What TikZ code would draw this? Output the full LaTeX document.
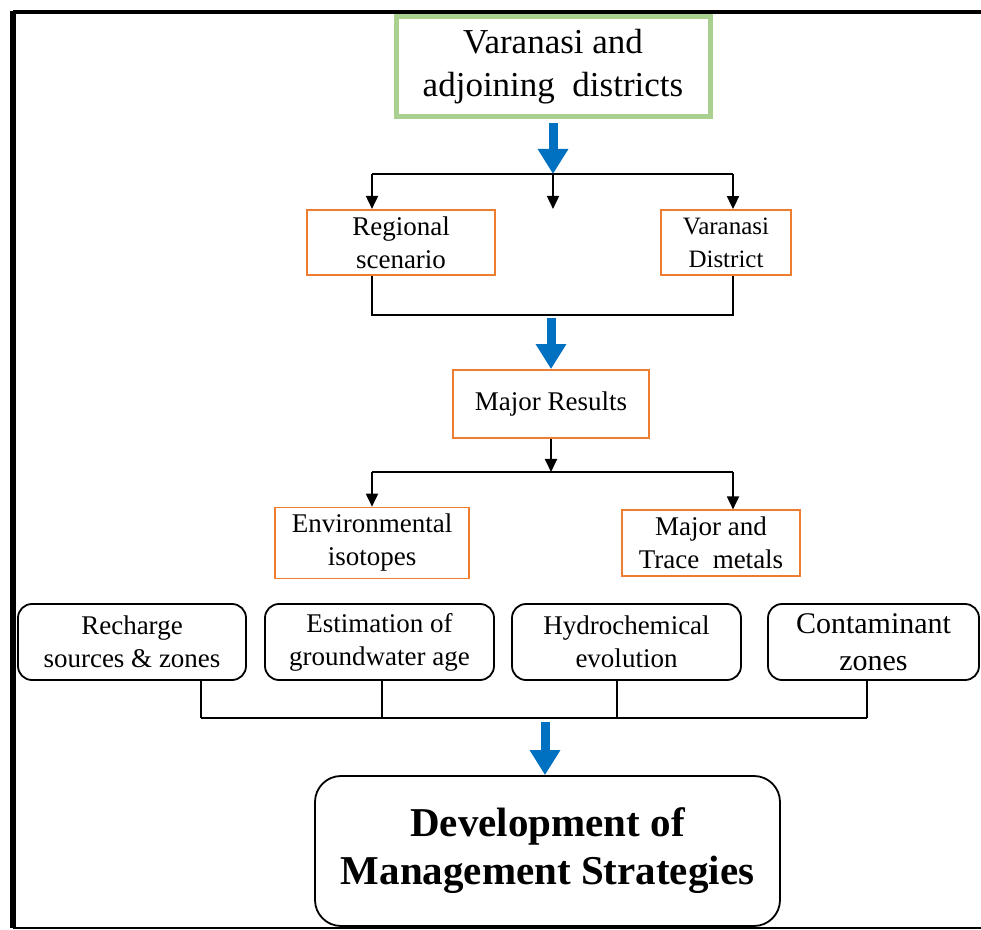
\documentclass[tikz,border=0pt]{standalone}
\usepackage{fontspec}
\setmainfont{Liberation Serif}
\usepackage{tikz}
\usetikzlibrary{positioning, arrows.meta}
\definecolor{areagreen}{RGB}{169,208,142}
\definecolor{resultorange}{RGB}{237,125,49}
\definecolor{flowblue}{RGB}{0,112,192}
\tikzstyle{area} = [rectangle, draw=areagreen, line width=2.5pt, minimum width=157pt, minimum height=50pt, text centered, align=center, font=\fontsize{17.5}{21.5}\selectfont]
\tikzstyle{result} = [rectangle, draw=resultorange, line width=0.9pt, minimum height=32.5pt, text centered, align=center, font=\fontsize{13.5}{16.5}\selectfont]
\tikzstyle{finding} = [rectangle, rounded corners=7pt, draw=black, line width=0.9pt, minimum height=38pt, text centered, align=center, font=\fontsize{13.5}{16.5}\selectfont]
\tikzstyle{strategy} = [rectangle, rounded corners=13pt, draw=black, line width=0.9pt, minimum width=232.5pt, minimum height=75pt, text centered, align=center, font=\bfseries\fontsize{20.5}{24}\selectfont]
\tikzstyle{line} = [line width=0.9pt]
\tikzstyle{arrow} = [line width=0.9pt, -{Triangle[width=6pt,length=6.5pt]}]
\tikzstyle{bigarrow} = [line width=4.5pt, draw=flowblue, -{Triangle[width=14.5pt,length=12.5pt]}]

\begin{document}
\begin{tikzpicture}[x=0.5pt, y=-0.5pt]
			\useasboundingbox (0,0) rectangle (981,930);
			% Frame
			\draw [line width=2pt] (981,12) -- (13,12);
			\draw [line width=3pt] (13,11) -- (13,928);
			\draw [line width=1pt] (13,928) -- (981,928);
			
			% Nodes
			\node (area) [area] at (553,67) {Varanasi and\\adjoining \ districts};
			
			\node (regional) [result, minimum width=94pt] at (401,242.5) {Regional\\scenario};
			\node (district) [result, minimum width=65pt, font=\fontsize{12.5}{16.5}\selectfont] at (726,242.5) {Varanasi\\District};
			
			\node (results) [result, minimum width=98pt, minimum height=34pt] at (551,404) {Major Results};
			
			\node (isotopes) [result, minimum width=97pt] at (372,543) {Environmental\\isotopes};
			\node (metals) [result, minimum width=89pt] at (711,543) {Major and\\Trace \ metals};
			
			\node (recharge) [finding, minimum width=114pt] at (132,642) {Recharge\\sources \& zones};
			\node (age) [finding, minimum width=114.5pt] at (379.5,642) {Estimation of\\groundwater age};
			\node (evolution) [finding, minimum width=114.5pt] at (626.5,642) {Hydrochemical\\evolution};
			\node (contaminant) [finding, minimum width=105.5pt, font=\fontsize{15}{18.5}\selectfont] at (873.5,642) {Contaminant\\zones};
			
			\node (strategy) [strategy] at (547.5,851) {Development of\\Management Strategies};
			
			% Junctions
			\coordinate (split1) at (553,174);
			\coordinate (left1) at (372,174);
			\coordinate (right1) at (733,174);
			\coordinate (merge1) at (551,315);
			\coordinate (split2) at (551,472);
			\coordinate (left2) at (372,472);
			\coordinate (right2) at (733,472);
			\coordinate (m1) at (201,718);
			\coordinate (m2) at (382,718);
			\coordinate (m3) at (617,718);
			\coordinate (m4) at (867,718);
			\coordinate (merge2) at (545,718);
			
			% Arrows
			\draw [bigarrow] ([yshift=-2pt]area.south) -- (split1);
			\draw [line] (left1) -- (right1);
			\draw [arrow] (left1) -- (left1 |- regional.north);
			\draw [arrow] (split1) -- (split1 |- regional.north);
			\draw [arrow] (right1) -- (right1 |- district.north);
			
			\draw [line] (regional.south -| left1) |- (merge1) -| (district.south -| right1);
			\draw [bigarrow] ([yshift=-1.5pt]merge1) -- (results.north);
			
			\draw [arrow] (results.south) -- (split2);
			\draw [line] (left2) -- (right2);
			\draw [arrow] (left2) -- (left2 |- isotopes.north);
			\draw [arrow] (right2) -- (right2 |- metals.north);
			
			\draw [line] (recharge.south -| m1) -- (m1);
			\draw [line] (age.south -| m2) -- (m2);
			\draw [line] (evolution.south -| m3) -- (m3);
			\draw [line] (contaminant.south -| m4) -- (m4);
			\draw [line] (m1) -- (m4);
			\draw [bigarrow] ([yshift=-2pt]merge2) -- (merge2 |- strategy.north);
\end{tikzpicture}
\end{document}
